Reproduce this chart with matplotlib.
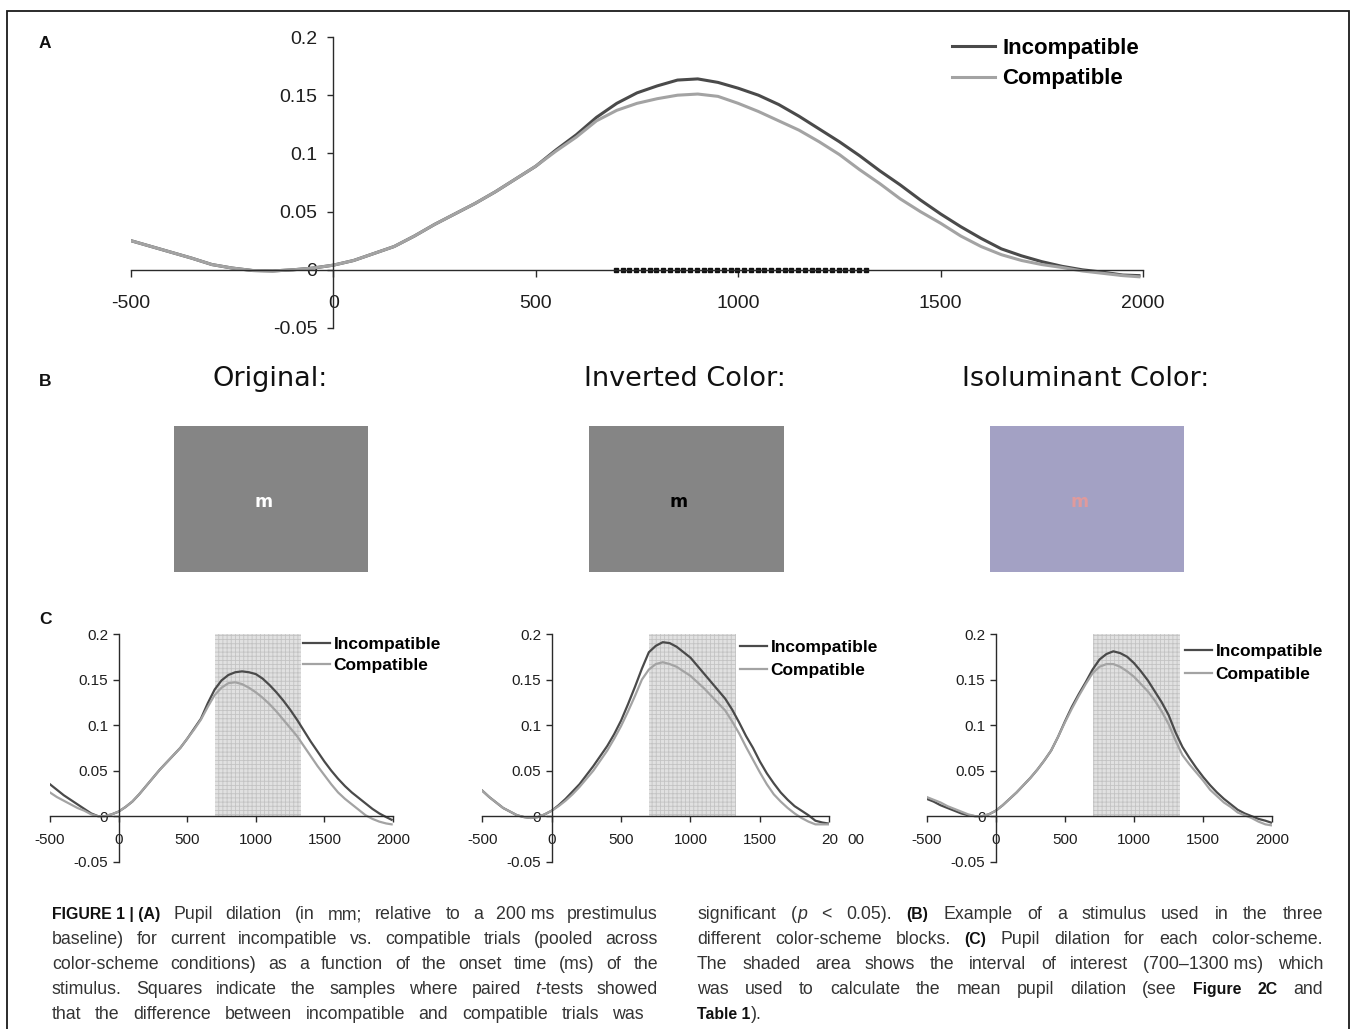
import re
import numpy as np
import matplotlib
matplotlib.use('Agg')
import matplotlib.pyplot as plt
from matplotlib.patches import Rectangle

plt.rcParams['font.family'] = ['Liberation Sans', 'DejaVu Sans']
plt.rcParams['hatch.linewidth'] = 0.6

W, H = 1355, 1029

# ---------------------------------------------------------------- data
time_ms = list(range(-500, 2000, 50)) + [1990]

# (A) pooled across colour schemes
pooled_incompatible = [
    0.025, 0.020, 0.015, 0.010, 0.0045, 0.0015, -0.0006, -0.001, 0.0, 0.0015,
    0.004, 0.008, 0.014, 0.020, 0.029, 0.039, 0.048, 0.057, 0.067, 0.078,
    0.089, 0.103, 0.116, 0.131, 0.143, 0.152, 0.158, 0.163, 0.164, 0.161,
    0.156, 0.150, 0.142, 0.132, 0.121, 0.110, 0.098, 0.085, 0.073, 0.060,
    0.048, 0.037, 0.027, 0.018, 0.012, 0.007, 0.003, 0.000, -0.002, -0.0045,
    -0.005]
pooled_compatible = [
    0.025, 0.020, 0.015, 0.010, 0.0045, 0.0015, -0.0006, -0.001, 0.0, 0.0015,
    0.004, 0.008, 0.014, 0.020, 0.029, 0.039, 0.048, 0.057, 0.067, 0.078,
    0.089, 0.102, 0.114, 0.128, 0.137, 0.143, 0.147, 0.150, 0.151, 0.149,
    0.143, 0.136, 0.128, 0.120, 0.110, 0.099, 0.086, 0.074, 0.061, 0.050,
    0.040, 0.029, 0.020, 0.013, 0.008, 0.0045, 0.002, -0.001, -0.003, -0.005,
    -0.006]

# (C) per colour scheme
original_incompatible = [
    0.035, 0.029, 0.023, 0.018, 0.013, 0.008, 0.003, 0.000, 0.000, 0.002,
    0.005, 0.010, 0.016, 0.024, 0.033, 0.042, 0.051, 0.059, 0.067, 0.075,
    0.085, 0.096, 0.107, 0.124, 0.139, 0.149, 0.155, 0.158, 0.159, 0.158,
    0.156, 0.151, 0.144, 0.136, 0.127, 0.117, 0.106, 0.094, 0.082, 0.071,
    0.060, 0.050, 0.041, 0.033, 0.026, 0.020, 0.014, 0.008, 0.003, -0.001,
    -0.004]
original_compatible = [
    0.026, 0.021, 0.017, 0.013, 0.009, 0.006, 0.002, 0.000, 0.000, 0.002,
    0.005, 0.010, 0.016, 0.024, 0.033, 0.042, 0.051, 0.059, 0.067, 0.075,
    0.085, 0.095, 0.106, 0.120, 0.133, 0.141, 0.146, 0.147, 0.145, 0.141,
    0.136, 0.130, 0.123, 0.115, 0.106, 0.097, 0.088, 0.077, 0.066, 0.055,
    0.045, 0.035, 0.026, 0.019, 0.013, 0.007, 0.001, -0.003, -0.006, -0.008,
    -0.009]
inverted_incompatible = [
    0.028, 0.021, 0.015, 0.009, 0.005, 0.001, -0.001, -0.002, -0.001, 0.002,
    0.006, 0.012, 0.019, 0.027, 0.035, 0.045, 0.055, 0.066, 0.077, 0.090,
    0.105, 0.123, 0.142, 0.162, 0.180, 0.187, 0.191, 0.190, 0.186, 0.180,
    0.174, 0.165, 0.156, 0.147, 0.138, 0.129, 0.117, 0.103, 0.088, 0.075,
    0.060, 0.047, 0.036, 0.026, 0.018, 0.011, 0.006, 0.001, -0.005, -0.007,
    -0.008]
inverted_compatible = [
    0.028, 0.021, 0.015, 0.009, 0.005, 0.001, -0.001, -0.002, -0.001, 0.002,
    0.006, 0.011, 0.017, 0.024, 0.032, 0.041, 0.050, 0.061, 0.072, 0.085,
    0.099, 0.115, 0.132, 0.150, 0.161, 0.167, 0.169, 0.167, 0.164, 0.159,
    0.154, 0.147, 0.140, 0.132, 0.124, 0.116, 0.104, 0.091, 0.076, 0.062,
    0.048, 0.035, 0.024, 0.016, 0.009, 0.003, -0.002, -0.006, -0.009, -0.009,
    -0.009]
isoluminant_incompatible = [
    0.019, 0.016, 0.012, 0.009, 0.006, 0.003, 0.001, 0.000, 0.000, 0.002,
    0.006, 0.012, 0.019, 0.026, 0.034, 0.042, 0.051, 0.061, 0.072, 0.087,
    0.104, 0.120, 0.134, 0.147, 0.161, 0.172, 0.178, 0.181, 0.179, 0.175,
    0.168, 0.159, 0.149, 0.137, 0.125, 0.111, 0.092, 0.076, 0.064, 0.053,
    0.043, 0.034, 0.026, 0.019, 0.013, 0.007, 0.003, 0.000, -0.003, -0.005,
    -0.007]
isoluminant_compatible = [
    0.021, 0.018, 0.015, 0.011, 0.008, 0.005, 0.002, 0.000, 0.000, 0.002,
    0.006, 0.012, 0.019, 0.026, 0.034, 0.042, 0.051, 0.061, 0.072, 0.087,
    0.103, 0.118, 0.132, 0.145, 0.157, 0.164, 0.167, 0.167, 0.164, 0.159,
    0.153, 0.145, 0.137, 0.127, 0.115, 0.101, 0.083, 0.067, 0.057, 0.048,
    0.039, 0.029, 0.022, 0.015, 0.010, 0.004, 0.001, -0.002, -0.006, -0.009,
    -0.010]

# samples (60 Hz) where the paired t-test was significant
sig_samples = np.arange(698, 1320, 1000 / 60)
roi = (700, 1330)

x_ticks = [-500, 0, 500, 1000, 1500, 2000]
x_labels = ['-500', '0', '500', '1000', '1500', '2000']
y_ticks = [-0.05, 0, 0.05, 0.1, 0.15, 0.2]
y_labels = ['-0.05', '0', '0.05', '0.1', '0.15', '0.2']

scheme_titles = ['Original:', 'Inverted Color:', 'Isoluminant Color:']
scheme_bg = ['#858585', '#858585', '#a3a1c4']
scheme_fg = ['#ffffff', '#000000', '#e09a9c']

caption_left = [
    "**FIGURE~1~|~(A)** Pupil dilation (in mm; relative to a 200~ms prestimulus",
    "baseline) for current incompatible vs. compatible trials (pooled across",
    "color-scheme conditions) as a function of the onset time (ms) of the",
    "stimulus. Squares indicate the samples where paired _t_-tests showed",
    "that the difference between incompatible and compatible trials was",
]
caption_right = [
    "significant (_p_ < 0.05). **(B)** Example of a stimulus used in the three",
    "different color-scheme blocks. **(C)** Pupil dilation for each color-scheme.",
    "The shaded area shows the interval of interest (700\u20131300~ms) which",
    "was used to calculate the mean pupil dilation (see **Figure** **2C** and",
    "**Table~1**).",
]

INC_COLOR = '#4a4a4a'
COMP_COLOR = '#a3a3a3'
AX_COLOR = '#2a2a2a'


def px_axes(fig, x0, x1, y_top, y_bot):
    return fig.add_axes([x0 / W, 1 - y_bot / H, (x1 - x0) / W, (y_bot - y_top) / H])


def style_axes(ax, labelsize, xlen, xpad, ylen, ypad, xlabels=x_labels):
    ax.set_xlim(-500, 2000)
    ax.set_ylim(-0.05, 0.2)
    ax.patch.set_alpha(0)
    ax.spines['top'].set_visible(False)
    ax.spines['right'].set_visible(False)
    ax.spines['left'].set_position(('data', 0))
    ax.spines['bottom'].set_position(('data', 0))
    for s in ['left', 'bottom']:
        ax.spines[s].set_color(AX_COLOR)
        ax.spines[s].set_linewidth(1.0)
    ax.set_xticks(x_ticks)
    ax.set_xticklabels(xlabels)
    ax.set_yticks(y_ticks)
    ax.set_yticklabels(y_labels)
    ax.tick_params(axis='x', direction='out', length=xlen, width=1.0, pad=xpad,
                   labelsize=labelsize, color=AX_COLOR, labelcolor='#1e1e1e')
    ax.tick_params(axis='y', direction='out', length=ylen, width=1.0, pad=ypad,
                   labelsize=labelsize, color=AX_COLOR, labelcolor='#1e1e1e')


fig = plt.figure(figsize=(W / 100, H / 100), dpi=100)

# outer frame of the figure
fig.add_artist(Rectangle((7 / W, -0.05), 1342 / W, 1.05 - 11 / H, transform=fig.transFigure,
                         fill=False, edgecolor='#1a1a1a', linewidth=1.3))

# ---------------------------------------------------------------- panel A
axA = px_axes(fig, 131, 1143, 37, 328)
style_axes(axA, 14, 5, 13.5, 4.5, 7)
axA.plot(time_ms, pooled_incompatible, color=INC_COLOR, lw=2.2, label='Incompatible')
axA.plot(time_ms, pooled_compatible, color=COMP_COLOR, lw=2.2, label='Compatible')
axA.plot(sig_samples, np.zeros(len(sig_samples)), 's', color='#111111', ms=2.4, clip_on=False)
axA.legend(loc='upper left', bbox_to_anchor=(952 / W, 1 - 38 / H), bbox_transform=fig.transFigure,
           frameon=False, prop={'size': 16, 'weight': 'bold'}, handlelength=1.95,
           handletextpad=0.3, labelspacing=0.42, borderpad=0, borderaxespad=0)

# ---------------------------------------------------------------- panel B
rect_x = [(174, 368), (589, 784), (990, 1184)]
title_x = [270, 685, 1086]
for i in range(3):
    fig.text(title_x[i] / W, 1 - 379 / H, scheme_titles[i], ha='center', va='center',
             fontsize=19.5, family='DejaVu Sans', color='#111111')
    axb = px_axes(fig, rect_x[i][0], rect_x[i][1], 426, 572)
    axb.set_facecolor(scheme_bg[i])
    axb.set_xticks([])
    axb.set_yticks([])
    for s in axb.spines.values():
        s.set_visible(False)
    axb.text(0.46, 0.48, 'm', transform=axb.transAxes, ha='center', va='center',
             fontsize=12.5, fontweight='bold', family='DejaVu Sans', color=scheme_fg[i])

# ---------------------------------------------------------------- panel C
c_series = [(original_incompatible, original_compatible),
            (inverted_incompatible, inverted_compatible),
            (isoluminant_incompatible, isoluminant_compatible)]
c_box = [(50, 393), (482.3, 829.3), (926.7, 1272.3)]
c_legend = [(303, 636.5), (740, 639.5), (1185, 644)]
c_spacing = [0.38, 0.5, 0.42]
for i in range(3):
    xl = list(x_labels)
    if i == 1:
        xl[-1] = '20'
    ax = px_axes(fig, c_box[i][0], c_box[i][1], 634, 861.7)
    style_axes(ax, 11, 4, 8, 4, 3.5, xlabels=xl)
    ax.fill_between(roi, 0, 0.2, facecolor='#e1e1e1', edgecolor='#c3c3c3', hatch='++++',
                    linewidth=0, zorder=0)
    inc, comp = c_series[i]
    ax.plot(time_ms, inc, color=INC_COLOR, lw=1.6, label='Incompatible')
    ax.plot(time_ms, comp, color=COMP_COLOR, lw=1.6, label='Compatible')
    ax.legend(loc='upper left', bbox_to_anchor=(c_legend[i][0] / W, 1 - c_legend[i][1] / H),
              bbox_transform=fig.transFigure, frameon=False,
              prop={'size': 12.5, 'weight': 'bold'}, handlelength=1.55,
              handletextpad=0.2, labelspacing=c_spacing[i], borderpad=0, borderaxespad=0)
    if i == 1:
        # the split "20  00" label of the original
        ax.annotate('00', xy=(2190, 0), xycoords='data', xytext=(0, -12),
                    textcoords='offset points', ha='center', va='top',
                    fontsize=11, color='#1e1e1e', annotation_clip=False)

# panel letters
for letter, y in [('A', 44), ('B', 381), ('C', 619)]:
    fig.text(45 / W, 1 - y / H, letter, ha='center', va='center', fontsize=12.5,
             fontweight='bold', color='#111111')

# ---------------------------------------------------------------- caption
renderer = fig.canvas.get_renderer()


def word_runs(word):
    runs = []
    for part in re.split(r'(\*\*.+?\*\*|_.+?_)', word):
        if not part:
            continue
        if part.startswith('**'):
            runs.append((part[2:-2].replace('~', ' '), 'bold', 'normal'))
        elif part.startswith('_') and len(part) > 2:
            runs.append((part[1:-1].replace('~', ' '), 'normal', 'italic'))
        else:
            runs.append((part.replace('~', ' '), 'normal', 'normal'))
    return runs


def caption_line(line, x0, x1, y, justify=True, size=12.8, bold_size=11.4):
    words = []
    for w in line.split(' '):
        items = []
        for txt, fw, fs in word_runs(w):
            t = fig.text(0, 0, txt, fontsize=bold_size if fw == 'bold' else size,
                         fontweight=fw, fontstyle=fs,
                         color='#111111' if fw == 'bold' else '#333333', va='baseline')
            items.append((t, t.get_window_extent(renderer).width))
        words.append(items)
    widths = [sum(wd for _, wd in items) for items in words]
    if justify and len(words) > 1:
        gap = max(3.0, (x1 - x0 - sum(widths)) / (len(words) - 1))
    else:
        gap = size * 0.4
    x = x0
    for items, wsum in zip(words, widths):
        xx = x
        for t, wd in items:
            t.set_position((xx / W, 1 - y / H))
            xx += wd + 0.5
        x += wsum + gap


for k, line in enumerate(caption_left):
    caption_line(line, 52, 658 if k < 4 else 644, 919 + 25 * k)
for k, line in enumerate(caption_right):
    caption_line(line, 697, 1323, 919 + 25 * k, justify=k < 4)

fig.savefig('out.png', dpi=100)
